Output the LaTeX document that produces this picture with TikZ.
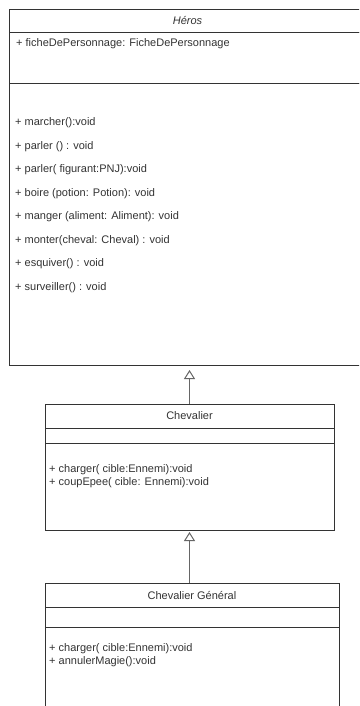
\documentclass[tikz,border=0pt]{standalone}
\usepackage{fontspec}
\setmainfont{Liberation Sans}
\usetikzlibrary{positioning,calc,arrows.meta}

\begin{document}
\begin{tikzpicture}[x=1pt,y=-1pt,
    part/.style={draw=black!80, line width=0.9pt, inner sep=0pt, outer sep=0pt, minimum width=#1,
        text=black!80, font=\fontsize{11}{13}\selectfont},
    txt/.style={inner sep=0pt, anchor=west, align=left, text=black!80, font=\fontsize{11}{13}\selectfont},
    inherit/.style={draw=black!60, line width=1pt, -{Triangle[open, length=9pt, width=11pt, fill=white]}}]
\clip (0,0) rectangle (359,706);
\fill[white] (0,0) rectangle (359,706);

% Heros
\node[part=357pt, minimum height=23pt, anchor=north west, font=\fontsize{11}{13}\selectfont\itshape] (heros) at (9,9) {Héros};
\node[part=357pt, minimum height=51pt, below=0pt of heros] (herosattr) {};
\node[part=357pt, minimum height=282pt, below=0pt of herosattr] (herosmeth) {};
\node[txt] (fiche) at ($(herosattr.north west)+(7,12)$) {+ ficheDePersonnage: FicheDePersonnage};
\foreach \m [count=\i from 0] in {+ marcher():void, + parler () : void, + parler( figurant:PNJ):void,
    + boire (potion: Potion): void, + manger (aliment: Aliment): void, + monter(cheval: Cheval) : void,
    + esquiver() : void, + surveiller() : void}
  \node[txt] (hm\i) at ($(herosmeth.north west)+(6,{40+23.5*\i})$) {\m};

% Chevalier
\node[part=289pt, minimum height=24pt, anchor=north west] (chev) at (45,404) {Chevalier};
\node[part=289pt, minimum height=15pt, below=0pt of chev] (chevattr) {};
\node[part=289pt, minimum height=87pt, below=0pt of chevattr] (chevmeth) {};
\node[txt] (chevops) at ($(chevmeth.north west)+(4,33.5)$) {+ charger( cible:Ennemi):void\\+ coupEpee( cible: Ennemi):void};

% Chevalier General
\node[part=294pt, minimum height=24pt, anchor=north west] (gen) at (45,583) {Chevalier Général};
\node[part=294pt, minimum height=20pt, below=0pt of gen] (genattr) {};
\node[part=294pt, minimum height=100pt, below=0pt of genattr] (genmeth) {};
\node[txt] (genops) at ($(genmeth.north west)+(4,28.5)$) {+ charger( cible:Ennemi):void\\+ annulerMagie():void};

\draw[inherit, shorten >=5pt] (chev.north) -- (chev.north |- herosmeth.south);
\draw[inherit, shorten >=2pt] (gen.north -| chevmeth.south) -- (chevmeth.south);
\end{tikzpicture}
\end{document}
